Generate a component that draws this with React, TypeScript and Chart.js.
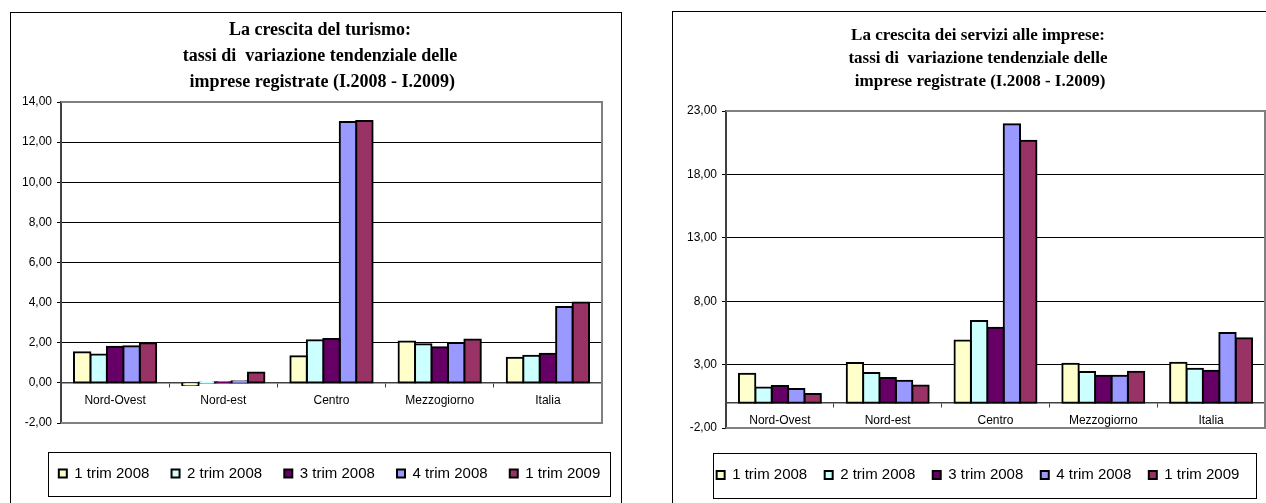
import React, { useEffect, useRef } from 'react';
import { Chart, registerables } from 'chart.js';

Chart.register(...registerables);

const SANS = "'Liberation Sans', Arial, sans-serif";
const SERIF = "'Liberation Serif', 'Times New Roman', serif";
Chart.defaults.font.family = SANS;

// ---------- data ----------
const categories = ['Nord-Ovest', 'Nord-est', 'Centro', 'Mezzogiorno', 'Italia'];
const seriesLabels = ['1 trim 2008', '2 trim 2008', '3 trim 2008', '4 trim 2008', '1 trim 2009'];
const seriesColors = ['#FFFFCC', '#CCFFFF', '#660066', '#9999FF', '#993366'];

// La crescita del turismo
const turismo1t2008 = [1.53, -0.11, 1.33, 2.06, 1.25];
const turismo2t2008 = [1.42, 0.02, 2.12, 1.92, 1.35];
const turismo3t2008 = [1.80, 0.03, 2.19, 1.77, 1.45];
const turismo4t2008 = [1.83, 0.08, 13.0, 1.99, 3.78];
const turismo1t2009 = [1.98, 0.52, 13.05, 2.16, 4.01];
const turismoTitle = ['La crescita del turismo:', 'tassi di  variazione tendenziale delle', ' imprese registrate (I.2008 - I.2009)'];
const turismoMin = -2;
const turismoMax = 14;
const turismoStep = 2;

// La crescita dei servizi alle imprese
const servizi1t2008 = [2.28, 3.12, 4.91, 3.07, 3.15];
const servizi2t2008 = [1.20, 2.33, 6.44, 2.41, 2.68];
const servizi3t2008 = [1.31, 1.94, 5.91, 2.12, 2.52];
const servizi4t2008 = [1.07, 1.73, 21.95, 2.12, 5.49];
const servizi1t2009 = [0.68, 1.36, 20.65, 2.44, 5.07];
const serviziTitle = ['La crescita dei servizi alle imprese:', 'tassi di  variazione tendenziale delle', ' imprese registrate (I.2008 - I.2009)'];
const serviziMin = -2;
const serviziMax = 23;
const serviziStep = 5;

// ---------- plugin: plot frame + legend frame ----------
const excelFrame = {
  id: 'excelFrame',
  beforeDatasetsDraw(chart: any) {
    const { ctx, chartArea: a } = chart;
    ctx.save();
    ctx.strokeStyle = '#808080';
    ctx.lineWidth = 2;
    ctx.beginPath();
    ctx.moveTo(a.left, a.top);
    ctx.lineTo(a.right, a.top);
    ctx.lineTo(a.right, a.bottom);
    ctx.lineTo(a.left, a.bottom);
    ctx.stroke();
    ctx.restore();
  },
  afterDraw(chart: any, _args: any, opts: any) {
    const { ctx, chartArea: a } = chart;
    const f = opts.legendFrame;
    if (!f) return;
    const x1 = Math.round(a.left + f.left) + 0.5;
    const x2 = Math.round(a.right + f.right) + 0.5;
    const y1 = Math.round(a.bottom + f.top) + 0.5;
    const y2 = Math.round(a.bottom + f.bottom) + 0.5;
    ctx.save();
    ctx.strokeStyle = '#000';
    ctx.lineWidth = 1;
    ctx.strokeRect(x1, y1, x2 - x1, y2 - y1);
    ctx.restore();
  },
};

type PanelProps = {
  left: number; top: number; width: number; height: number;
  title: string[]; titleSize: number; titleLineHeight: number; titlePad: { top: number; bottom: number };
  series: number[][]; min: number; max: number; step: number;
  pad: { left: number; right: number; top: number; bottom: number };
  yWidth: number; rightWidth: number;
  legendPad: number; legendTitlePad: number; legendAlign: 'start' | 'center' | 'end';
  legendFrame: { left: number; right: number; top: number; bottom: number };
};

function ChartPanel(p: PanelProps) {
  const ref = useRef<HTMLCanvasElement | null>(null);
  useEffect(() => {
    if (!ref.current) return;
    const { min, max } = p;
    const chart = new Chart(ref.current, {
      type: 'bar',
      data: {
        labels: categories,
        datasets: seriesLabels.map((label, i) => ({
          label,
          data: p.series[i],
          backgroundColor: seriesColors[i],
          borderColor: '#000',
          borderWidth: 2,
          borderSkipped: false,
          inflateAmount: 1,
          categoryPercentage: 0.76,
          barPercentage: 1,
          xAxisID: 'x',
          yAxisID: 'y',
        })),
      },
      options: {
        responsive: false,
        animation: false,
        devicePixelRatio: 1,
        events: [],
        layout: { padding: p.pad },
        scales: {
          x: {
            type: 'category',
            position: { y: 0 } as any,
            offset: true,
            grid: {
              display: true,
              drawOnChartArea: false,
              drawTicks: true,
              tickLength: 4,
              offset: true,
              color: '#404040',
              tickColor: '#404040',
            },
            border: { display: true, color: '#404040', width: 1.5 },
            ticks: { color: '#000', font: { family: SANS, size: 12 }, padding: 6.5, autoSkip: false, maxRotation: 0 },
            afterFit(scale: any) { scale.height = 0; },
          },
          y: {
            type: 'linear',
            position: 'left',
            min: p.min,
            max: p.max,
            ticks: {
              stepSize: p.step,
              color: '#000',
              font: { family: SANS, size: 12 },
              padding: 5,
              callback: (v: any) => Number(v).toFixed(2).replace('.', ','),
            },
            grid: {
              color: (c: any) => (c.tick && (c.tick.value === min || c.tick.value === max)) ? 'rgba(0,0,0,0)' : '#000',
              lineWidth: 1,
              drawTicks: true,
              tickLength: 4,
              tickColor: '#000',
            },
            border: { display: true, color: '#404040', width: 2 },
            afterFit(scale: any) { scale.width = p.yWidth; },
          },
          yPad: {
            type: 'linear',
            position: 'right',
            display: true,
            grid: { display: false, drawOnChartArea: false },
            border: { display: false },
            ticks: { display: false },
            afterFit(scale: any) { scale.width = p.rightWidth; },
          },
        } as any,
        plugins: {
          title: {
            display: true,
            text: p.title,
            color: '#000',
            font: { family: SERIF, size: p.titleSize, weight: 'bold', lineHeight: p.titleLineHeight },
            padding: p.titlePad,
          },
          legend: {
            display: true,
            position: 'bottom',
            align: p.legendAlign,
            fullSize: true,
            title: { display: true, text: '', padding: { top: p.legendTitlePad, bottom: 0 }, font: { size: 1, lineHeight: 1 } },
            labels: {
              boxWidth: 8,
              boxHeight: 8,
              padding: p.legendPad,
              color: '#000',
              font: { family: SANS, size: 15 },
            },
          },
          tooltip: { enabled: false },
          excelFrame: { legendFrame: p.legendFrame },
        } as any,
      },
      plugins: [excelFrame],
    } as any);
    return () => chart.destroy();
  }, []);
  return (
    <canvas
      ref={ref}
      width={p.width}
      height={p.height}
      style={{ position: 'absolute', left: p.left, top: p.top, width: p.width, height: p.height }}
    />
  );
}

export default function App() {
  return (
    <div style={{ position: 'fixed', left: 0, top: 0, width: 1266, height: 503, overflow: 'hidden', background: '#fff' }}>
      <div style={{ position: 'absolute', left: 10, top: 12, width: 612, height: 600, border: '1px solid #000', boxSizing: 'border-box' }} />
      <div style={{ position: 'absolute', left: 672, top: 11, width: 700, height: 600, border: '1px solid #000', boxSizing: 'border-box' }} />
      <ChartPanel
        left={11} top={13} width={612} height={490}
        title={turismoTitle} titleSize={18} titleLineHeight={26 / 18} titlePad={{ top: 4.5, bottom: 6.5 }}
        series={[turismo1t2008, turismo2t2008, turismo3t2008, turismo4t2008, turismo1t2009]}
        min={turismoMin} max={turismoMax} step={turismoStep}
        pad={{ left: 6.5, right: 0.5, top: 0, bottom: 12 }}
        yWidth={43.5} rightWidth={20.5}
        legendPad={22.2} legendTitlePad={19.8} legendAlign="end"
        legendFrame={{ left: -13, right: 8, top: 29, bottom: 73 }}
      />
      <ChartPanel
        left={673} top={12} width={606} height={491}
        title={serviziTitle} titleSize={17} titleLineHeight={23.3 / 17} titlePad={{ top: 11.85, bottom: 17.25 }}
        series={[servizi1t2008, servizi2t2008, servizi3t2008, servizi4t2008, servizi1t2009]}
        min={serviziMin} max={serviziMax} step={serviziStep}
        pad={{ left: 5, right: 1, top: 0, bottom: 10.5 }}
        yWidth={48} rightWidth={13}
        legendPad={17.5} legendTitlePad={21} legendAlign="center"
        legendFrame={{ left: -13, right: -9, top: 25, bottom: 70 }}
      />
    </div>
  );
}
